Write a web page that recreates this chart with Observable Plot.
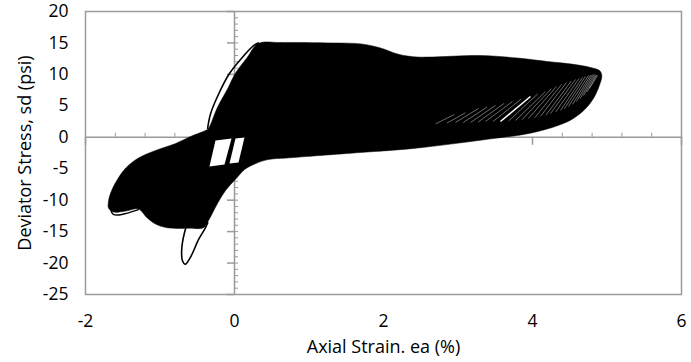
<!DOCTYPE html>
<html>
<head>
<meta charset="utf-8">
<script src="https://cdn.jsdelivr.net/npm/d3@7"></script>
<script src="https://cdn.jsdelivr.net/npm/@observablehq/plot@0.6"></script>
<style>
  html, body { margin: 0; padding: 0; background: #fff; }
  #chart svg { display: block; overflow: visible; }
</style>
</head>
<body>
<div id="chart"></div>
<script>
// ---- Data (axial strain %, deviator stress psi) ----
const xTicks = [-2, 0, 2, 4, 6];
const yTicks = [-25, -20, -15, -10, -5, 0, 5, 10, 15, 20];
const xMinorTicks = [-1.6, -1.2, -0.8, -0.4, 0.4, 0.8, 1.2, 1.6, 2.4, 2.8, 3.2, 3.6, 4.4, 4.8, 5.2, 5.6];
const yMinorTicks = d3.range(-25, 21, 1);

// outer envelope of the dense hysteresis loops
const envelope = [
  [0.32, 14.91], [0.62, 15.07], [1.30, 15.0], [1.70, 14.85], [1.96, 14.2], [2.20, 13.2], [2.40, 12.8],
  [2.60, 12.75], [3.30, 13.0], [3.80, 12.6], [4.20, 12.05], [4.55, 11.6], [4.78, 11.1], [4.90, 10.6],
  [4.93, 9.8], [4.90, 8.3], [4.82, 6.2], [4.70, 4.4], [4.55, 3.0], [4.35, 1.9], [3.97, 0.65],
  [3.44, -0.25], [2.40, -1.78], [1.69, -2.42], [0.70, -3.30], [0.45, -3.55], [0.28, -4.2],
  [0.14, -5.1], [0.02, -6.6], [-0.12, -8.46], [-0.23, -10.56], [-0.35, -13.26], [-0.42, -14.4],
  [-0.60, -14.45], [-0.90, -14.4], [-1.06, -13.8], [-1.17, -12.85], [-1.29, -11.4], [-1.46, -11.73],
  [-1.62, -11.9], [-1.69, -11.3], [-1.69, -10.06], [-1.66, -8.78], [-1.58, -6.87], [-1.46, -4.9],
  [-1.29, -3.3], [-1.06, -2.10], [-0.79, -0.99], [-0.59, 0.13], [-0.39, 1.08], [-0.35, 1.40],
  [-0.23, 4.74], [-0.09, 7.76], [0.01, 10.14], [0.17, 12.69]
];

// white gaps inside the loops near the origin
const holeA = [[-0.255, -0.51], [-0.04, -0.19], [-0.134, -4.32], [-0.336, -4.64]];
const holeB = [[0.013, -0.19], [0.134, -0.03], [0.054, -4.0], [-0.067, -4.17]];

// single loading branch visible left of the upper body
const peakLine = [[-0.36, 1.45], [-0.32, 3.78], [-0.21, 6.96], [-0.07, 10.1], [0.09, 12.5], [0.26, 14.6], [0.32, 15.0]];

// first large compression loop (tail)
const tailLoop = [[-0.36, -13.6], [-0.40, -14.6], [-0.48, -16.2], [-0.59, -19.05], [-0.66, -20.2],
  [-0.70, -19.6], [-0.71, -18.4], [-0.70, -16.85], [-0.67, -15.1], [-0.64, -13.9]];

// small hook at the far left
const hookLoop = [[-1.66, -11.3], [-1.65, -11.9], [-1.62, -12.3], [-1.55, -12.35], [-1.45, -12.1], [-1.29, -11.5]];

// light unloading branches near the right tip [x1, y1, x2, y2]
const hatch = [
  [2.70, 2.15, 2.95, 3.6], [2.85, 2.25, 3.10, 3.9], [2.966, 2.35, 3.275, 4.58], [3.07, 2.35, 3.39, 4.8],
  [3.168, 2.35, 3.503, 5.06], [3.27, 2.42, 3.62, 5.4], [3.369, 2.51, 3.732, 5.69], [3.47, 2.5, 3.85, 6.1],
  [3.68, 2.6, 4.07, 6.9], [3.772, 2.67, 4.174, 7.28], [3.86, 2.8, 4.25, 7.7], [3.946, 2.99, 4.322, 8.08],
  [4.03, 3.1, 4.39, 8.4], [4.107, 3.31, 4.456, 8.71], [4.18, 3.5, 4.52, 8.95], [4.242, 3.78, 4.577, 9.19],
  [4.31, 4.0, 4.625, 9.35], [4.376, 4.26, 4.671, 9.51], [4.43, 4.55, 4.71, 9.67], [4.483, 4.90, 4.752, 9.83],
  [4.54, 5.25, 4.78, 9.9], [4.591, 5.69, 4.805, 9.98], [4.64, 6.15, 4.826, 9.98], [4.685, 6.65, 4.846, 9.98],
  [4.73, 7.2, 4.86, 9.9], [4.765, 7.76, 4.872, 9.83]
];
const brightBranch = [[3.570, 2.51, 3.973, 6.49]];

const xTitle = "Axial Strain. ea (%)";
const yTitle = "Deviator Stress, sd (psi)";

// ---- Layout ----
const W = 691, H = 362;
const M = {top: 11, right: 10, bottom: 68, left: 85};
const xDomain = [-2, 6], yDomain = [-25, 20];
const xPerPx = (xDomain[1] - xDomain[0]) / (W - M.left - M.right);
const yPerPx = (yDomain[1] - yDomain[0]) / (H - M.top - M.bottom);
const grey = "#9a9a9a";
const font = "'Open Sans', 'Noto Sans', sans-serif";

const chart = Plot.plot({
  width: W, height: H,
  marginTop: M.top, marginRight: M.right, marginBottom: M.bottom, marginLeft: M.left,
  style: {fontFamily: font, fontSize: "17.5px", color: "#000", background: "#fff"},
  x: {domain: xDomain, ticks: xTicks, tickSize: 0, tickPadding: 20, label: null, tickFormat: d => String(d)},
  y: {domain: yDomain, ticks: yTicks, tickSize: 0, tickPadding: 17, label: null, tickFormat: d => String(d)},
  marks: [
    Plot.frame({stroke: grey, strokeWidth: 1.5}),
    Plot.ruleY([0], {stroke: grey, strokeWidth: 1.5}),
    Plot.ruleX([0], {stroke: grey, strokeWidth: 1.5}),
    Plot.ruleY(yTicks, {y: d => d, x1: -7 * xPerPx, x2: 0, stroke: grey, strokeWidth: 1.5}),
    Plot.ruleY(yMinorTicks, {y: d => d, x1: 0, x2: 4 * xPerPx, stroke: grey, strokeWidth: 1}),
    Plot.ruleX(xTicks, {x: d => d, y1: -8 * yPerPx, y2: 0, stroke: grey, strokeWidth: 1.5}),
    Plot.ruleX(xMinorTicks, {x: d => d, y1: 0, y2: 4 * yPerPx, stroke: grey, strokeWidth: 1}),
    Plot.line(tailLoop, {x: d => d[0], y: d => d[1], stroke: "#000", strokeWidth: 1.6, curve: "catmull-rom"}),
    Plot.line(hookLoop, {x: d => d[0], y: d => d[1], stroke: "#000", strokeWidth: 1.4, curve: "catmull-rom"}),
    Plot.line(envelope, {x: d => d[0], y: d => d[1], fill: "#000", stroke: "#000", strokeWidth: 0.5, curve: "catmull-rom-closed"}),
    Plot.line(peakLine, {x: d => d[0], y: d => d[1], stroke: "#000", strokeWidth: 1.6, curve: "catmull-rom"}),
    Plot.line(holeA, {x: d => d[0], y: d => d[1], fill: "#fff", stroke: "none", curve: "linear-closed"}),
    Plot.line(holeB, {x: d => d[0], y: d => d[1], fill: "#fff", stroke: "none", curve: "linear-closed"}),
    Plot.link(hatch, {x1: d => d[0], y1: d => d[1], x2: d => d[2], y2: d => d[3], stroke: "#fff", strokeWidth: 0.6, strokeOpacity: 0.7}),
    Plot.link(brightBranch, {x1: d => d[0], y1: d => d[1], x2: d => d[2], y2: d => d[3], stroke: "#fff", strokeWidth: 1.5}),
    Plot.text([xTitle], {frameAnchor: "bottom", dy: 58, fontSize: 18, fill: "#000"}),
    Plot.text([yTitle], {frameAnchor: "left", dx: -60, rotate: -90, textAnchor: "middle", fontSize: 18, fill: "#000"})
  ]
});
document.getElementById("chart").appendChild(chart);
</script>
</body>
</html>
